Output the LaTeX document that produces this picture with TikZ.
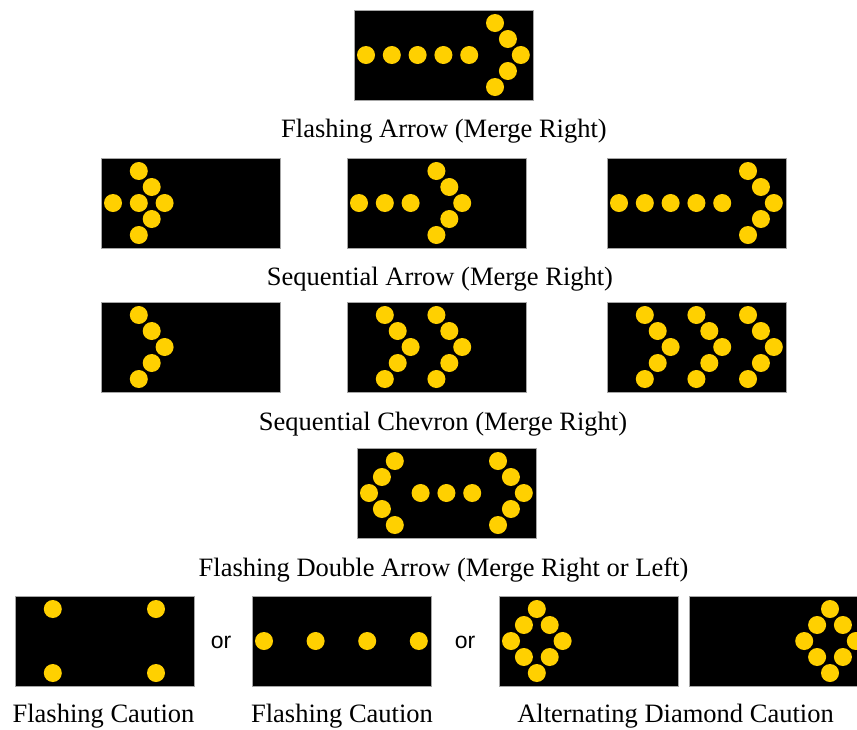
\documentclass[tikz,border=0pt]{standalone}
\usepackage{fontspec}
\setmainfont{Liberation Serif}
\newfontfamily\orfont{Liberation Sans}
\usetikzlibrary{calc}

\definecolor{lampyellow}{RGB}{255,208,0}
\tikzset{
  sign/.style={fill=black, draw=gray!70, line width=0.8pt},
  lamp/.style={fill=lampyellow},
  caption/.style={anchor=base, font=\fontsize{26.5}{31}\selectfont},
  ortext/.style={font=\orfont\fontsize{23}{27}\selectfont}
}
% lamps of one sign: grid column/row pairs
\newcommand{\lamps}[2]{%
  \foreach \i/\j in {#2} {
    \fill[lamp] ($(#1)+(12+12.9*\i,13+16*\j)$) circle[radius=9pt];
  }}

\begin{document}
\begin{tikzpicture}[x=1pt, y=-1pt]
  \useasboundingbox (0,0) rectangle (857,729);

  % Points (upper left corners of the signs)
  \coordinate (fa) at (354,10);
  \coordinate (sa1) at (101,158);
  \coordinate (sa2) at (347,158);
  \coordinate (sa3) at (607,158);
  \coordinate (sc1) at (101,302);
  \coordinate (sc2) at (347,302);
  \coordinate (sc3) at (607,302);
  \coordinate (da) at (357,448);
  \coordinate (fc1) at (15,596);
  \coordinate (fc2) at (252,596);
  \coordinate (ad1) at (499,596);
  \coordinate (ad2) at (689,596);

  % Signs
  \foreach \p in {fa, sa1, sa2, sa3, sc1, sc2, sc3, da, fc1, fc2, ad1, ad2} {
    \draw[sign] (\p) rectangle ++(179,90);
  }

  % Flashing arrow
  \lamps{fa}{0/2, 2/2, 4/2, 6/2, 8/2, 10/0, 11/1, 12/2, 11/3, 10/4}

  % Sequential arrow
  \lamps{sa1}{0/2, 2/2, 2/0, 3/1, 4/2, 3/3, 2/4}
  \lamps{sa2}{0/2, 2/2, 4/2, 6/0, 7/1, 8/2, 7/3, 6/4}
  \lamps{sa3}{0/2, 2/2, 4/2, 6/2, 8/2, 10/0, 11/1, 12/2, 11/3, 10/4}

  % Sequential chevron
  \lamps{sc1}{2/0, 3/1, 4/2, 3/3, 2/4}
  \lamps{sc2}{2/0, 3/1, 4/2, 3/3, 2/4, 6/0, 7/1, 8/2, 7/3, 6/4}
  \lamps{sc3}{2/0, 3/1, 4/2, 3/3, 2/4, 6/0, 7/1, 8/2, 7/3, 6/4,
    10/0, 11/1, 12/2, 11/3, 10/4}

  % Flashing double arrow
  \lamps{da}{2/0, 1/1, 0/2, 1/3, 2/4, 4/2, 6/2, 8/2, 10/0, 11/1, 12/2, 11/3, 10/4}

  % Caution
  \lamps{fc1}{2/0, 10/0, 2/4, 10/4}
  \lamps{fc2}{0/2, 4/2, 8/2, 12/2}
  \lamps{ad1}{2/0, 1/1, 3/1, 0/2, 4/2, 1/3, 3/3, 2/4}
  \lamps{ad2}{10/0, 9/1, 11/1, 8/2, 12/2, 9/3, 11/3, 10/4}

  % Labels
  \node[caption] (lfa) at (444,137) {Flashing Arrow (Merge Right)};
  \node[caption] (lsa) at (440,285) {Sequential Arrow (Merge Right)};
  \node[caption] (lsc) at (443,430) {Sequential Chevron (Merge Right)};
  \node[caption] (lda) at (443.5,576) {Flashing Double Arrow (Merge Right or Left)};
  \node[caption] (lfc1) at (103.5,722) {Flashing Caution};
  \node[caption] (lfc2) at (342,722) {Flashing Caution};
  \node[caption] (lad) at (675.5,722) {Alternating Diamond Caution};
  \node[ortext] (or1) at (221,642) {or};
  \node[ortext] (or2) at (465,642) {or};
\end{tikzpicture}
\end{document}
